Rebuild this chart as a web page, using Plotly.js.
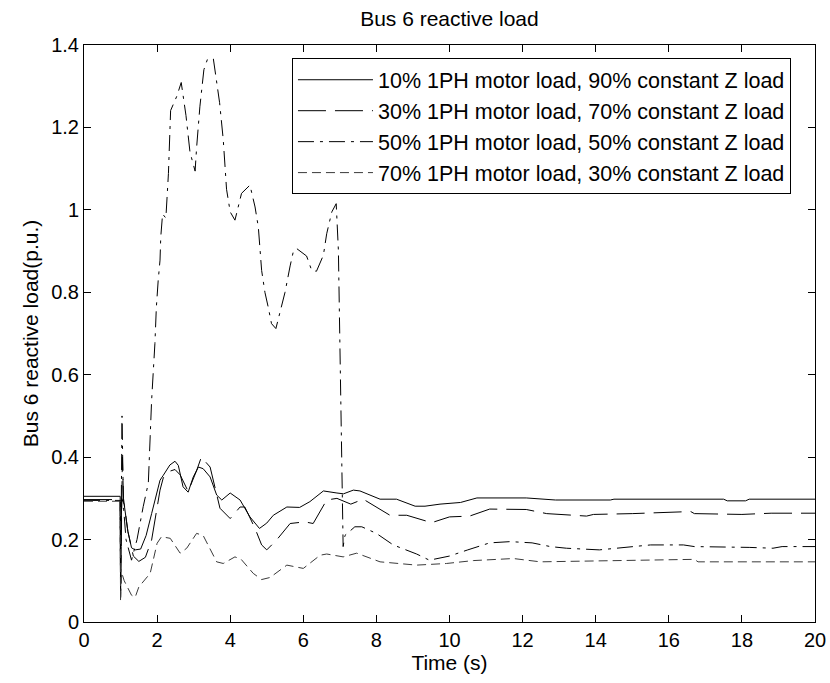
<!DOCTYPE html>
<html>
<head>
<meta charset="utf-8">
<script src="https://cdn.plot.ly/plotly-3.0.1.min.js"></script>
<style>html,body{margin:0;padding:0;background:#fff;}#chart{width:830px;height:683px;}</style>
</head>
<body>
<div id="chart"></div>
<script>
const seriesNames = [
  "10% 1PH motor load, 90% constant Z load",
  "30% 1PH motor load, 70% constant Z load",
  "50% 1PH motor load, 50% constant Z load",
  "70% 1PH motor load, 30% constant Z load"
];

const t10 = [0,0.99,1.0,1.03,1.1,1.2,1.3,1.4,1.55,1.7,1.85,2.0,2.08,2.17,2.35,2.49,2.58,2.71,2.85,2.99,3.13,3.26,3.45,3.63,3.77,4.0,4.27,4.54,4.8,5.0,5.18,5.55,5.9,6.18,6.55,6.92,7.1,7.37,7.55,8.1,8.55,9.06,9.33,9.74,10.3,10.75,12.1,12.9,14.4,14.5,17.5,17.6,18.1,18.2,20];
const q10 = [0.305,0.305,0.08,0.30,0.285,0.22,0.18,0.175,0.177,0.21,0.263,0.32,0.344,0.356,0.381,0.39,0.38,0.328,0.315,0.352,0.376,0.372,0.352,0.308,0.296,0.313,0.296,0.255,0.227,0.24,0.259,0.279,0.278,0.292,0.318,0.313,0.311,0.32,0.318,0.298,0.298,0.281,0.281,0.286,0.29,0.301,0.301,0.296,0.296,0.298,0.298,0.294,0.294,0.298,0.298];

const t30 = [0,0.99,1.0,1.05,1.08,1.2,1.35,1.5,1.68,1.85,2.08,2.17,2.35,2.49,2.63,2.85,3.08,3.21,3.45,3.68,3.72,4.0,4.27,4.4,4.68,4.86,5.0,5.27,5.64,6.04,6.27,6.64,6.92,7.3,7.64,8.37,8.83,9.51,10.0,10.55,11.1,12.1,12.66,13.75,13.94,15.0,16.6,16.7,18.0,18.8,20];
const q30 = [0.297,0.297,0.06,0.40,0.30,0.22,0.16,0.147,0.157,0.199,0.32,0.35,0.366,0.37,0.357,0.317,0.367,0.40,0.376,0.296,0.276,0.251,0.279,0.279,0.227,0.187,0.175,0.199,0.239,0.243,0.239,0.296,0.30,0.286,0.298,0.259,0.259,0.241,0.255,0.257,0.274,0.273,0.263,0.257,0.261,0.263,0.268,0.263,0.261,0.264,0.264];

const t50 = [0,0.99,1.0,1.04,1.08,1.15,1.3,1.45,1.62,1.76,1.81,1.85,1.94,1.98,2.03,2.08,2.1,2.15,2.24,2.31,2.37,2.54,2.66,2.79,2.9,3.04,3.08,3.17,3.28,3.38,3.54,3.71,3.81,3.9,4.0,4.13,4.31,4.54,4.68,4.77,4.86,4.95,5.04,5.13,5.25,5.36,5.5,5.64,5.73,5.82,6.09,6.23,6.36,6.55,6.64,6.78,6.9,6.96,7.0,7.05,7.09,7.14,7.41,7.6,8.0,8.46,8.92,9.1,9.45,10.0,10.5,11.1,11.66,12.26,12.76,13.2,14.1,15.0,15.5,16.4,16.7,18.2,18.85,19.1,20];
const q50 = [0.295,0.295,0.075,0.50,0.28,0.20,0.15,0.20,0.28,0.337,0.449,0.538,0.676,0.764,0.829,0.878,0.934,0.99,0.98,1.088,1.241,1.276,1.309,1.229,1.14,1.094,1.15,1.25,1.34,1.366,1.366,1.26,1.17,1.05,0.995,0.975,1.04,1.06,1.007,0.958,0.853,0.80,0.764,0.724,0.712,0.748,0.80,0.864,0.90,0.906,0.888,0.853,0.851,0.89,0.942,0.995,1.015,0.902,0.70,0.45,0.183,0.21,0.231,0.231,0.215,0.187,0.17,0.165,0.15,0.16,0.175,0.192,0.195,0.192,0.183,0.179,0.175,0.183,0.187,0.187,0.183,0.181,0.179,0.183,0.183];

const t70 = [0,0.99,1.0,1.03,1.1,1.3,1.4,1.5,1.81,2.0,2.12,2.36,2.63,2.81,3.08,3.26,3.63,3.81,4.13,4.3,4.63,4.86,5.09,5.55,6.0,6.46,6.64,7.09,7.46,8.1,9.1,9.92,10.65,11.75,12.48,16.7,16.8,20];
const q70 = [0.293,0.293,0.05,0.12,0.10,0.065,0.06,0.085,0.118,0.191,0.207,0.203,0.167,0.179,0.215,0.21,0.146,0.142,0.158,0.152,0.118,0.103,0.108,0.138,0.130,0.162,0.165,0.158,0.167,0.146,0.138,0.142,0.149,0.154,0.146,0.152,0.146,0.146];

const xTicks = [0,2,4,6,8,10,12,14,16,18,20];
const yTicks = [0,0.2,0.4,0.6,0.8,1,1.2,1.4];
const yTickText = ["0","0.2","0.4","0.6","0.8","1","1.2","1.4"];

const FONT = "Liberation Sans, Arial, sans-serif";
const dashes = ["solid", "28px,9px", "16px,6px,3px,6px", "9px,5px"];
const colors = ["#000000", "#000000", "#000000", "#3a3a3a"];
const xs = [t10, t30, t50, t70];
const ys = [q10, q30, q50, q70];

const traces = xs.map((x, i) => ({
  x: x, y: ys[i], name: seriesNames[i], type: "scatter", mode: "lines",
  line: {color: colors[i], width: 1, dash: dashes[i]}
}));

const axisCommon = {
  showline: true, linecolor: "#000", linewidth: 1, mirror: "ticks",
  ticks: "inside", ticklen: 7, tickcolor: "#000", showgrid: false, zeroline: false,
  tickfont: {family: FONT, size: 20, color: "#000"}
};

const layout = {
  width: 830, height: 683,
  margin: {l: 84, r: 15, t: 45, b: 61},
  paper_bgcolor: "#fff", plot_bgcolor: "#fff",
  title: {text: "Bus 6 reactive load", font: {family: FONT, size: 21, color: "#000"}, x: 0.5415, xanchor: "center", y: 0.972, yanchor: "middle"},
  xaxis: Object.assign({}, axisCommon, {range: [0, 20], tickvals: xTicks, ticktext: xTicks.map(String),
    title: {text: "Time (s)", font: {family: FONT, size: 21, color: "#000"}, standoff: 1}}),
  yaxis: Object.assign({}, axisCommon, {range: [0, 1.4], tickvals: yTicks, ticktext: yTickText,
    title: {text: "Bus 6 reactive load(p.u.)", font: {family: FONT, size: 21, color: "#000"}, standoff: 6}}),
  showlegend: true,
  legend: {x: 0.2845, xanchor: "left", y: 0.977, yanchor: "top", bgcolor: "#fff", bordercolor: "#000", borderwidth: 1,
    font: {family: FONT, size: 21.5, color: "#000"}, tracegroupgap: 0, itemwidth: 75}
};

Plotly.newPlot("chart", traces, layout, {displayModeBar: false, staticPlot: true});
</script>
</body>
</html>
